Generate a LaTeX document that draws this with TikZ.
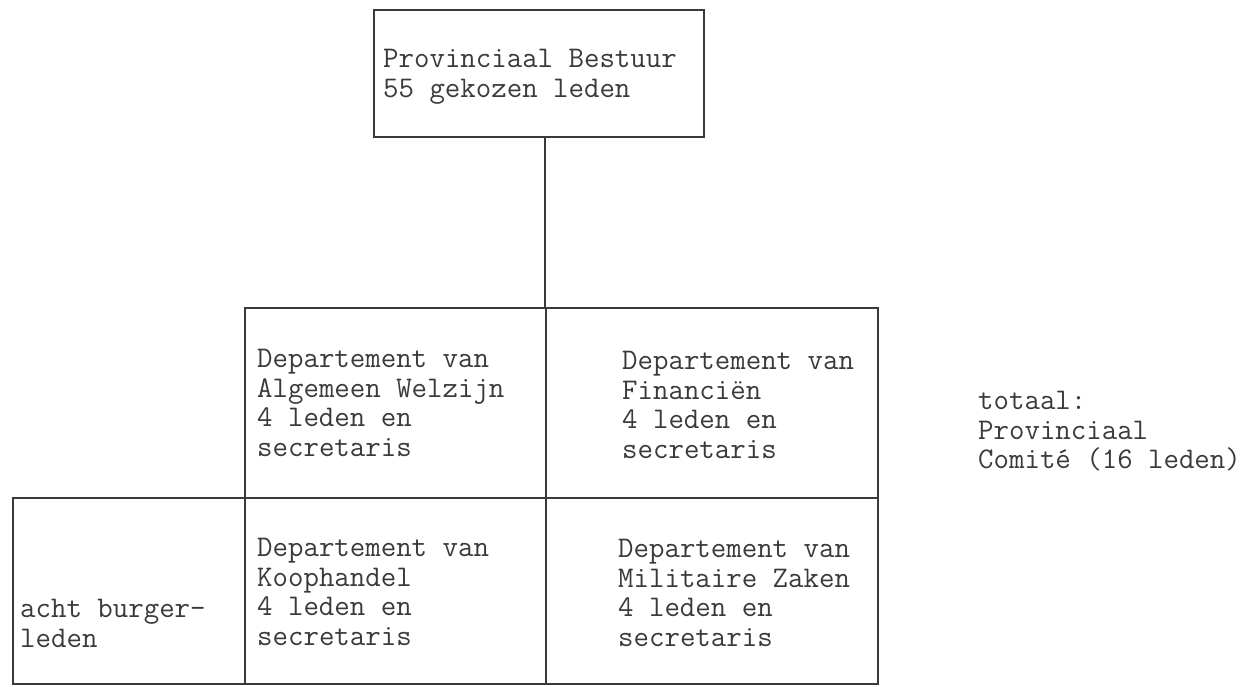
\documentclass[tikz,border=0pt]{standalone}
\usepackage{fontspec}
\definecolor{ink}{HTML}{3A3A3A}
\begin{document}
\begin{tikzpicture}[x=1pt,y=-1pt,
  frame/.style={draw=ink, line width=1.3pt, inner sep=0pt, outer sep=0pt, anchor=north west},
  txt/.style={text=ink, inner sep=0pt, anchor=north west, align=left, font=\ttfamily\fontsize{30}{29.5}\selectfont},
  side/.style={txt},
  link/.style={draw=ink, line width=1.3pt}]
\useasboundingbox (0,0) rectangle (1257,686);
% boxes
\node[frame, minimum width=330, minimum height=127] (top) at (374,10) {};
\node[frame, minimum width=301, minimum height=190] (tl) at (245,308) {};
\node[frame, minimum width=332, minimum height=190] (tr) at (546,308) {};
\node[frame, minimum width=301, minimum height=186] (bl) at (245,498) {};
\node[frame, minimum width=332, minimum height=186] (br) at (546,498) {};
\node[frame, minimum width=232, minimum height=186] (lf) at (13,498) {};
% connector
\coordinate (cx) at (545,0);
\draw[link] (top.south -| cx) -- (tl.north -| cx);
% texts
\node[txt] (ttop) at (383,49) {Provinciaal Bestuur\\55 gekozen leden};
\node[txt] (ttl) at (257,349) {Departement van\\Algemeen Welzijn\\4 leden en\\secretaris};
\node[txt] (ttr) at (622,351) {Departement van\\Financiën\\4 leden en\\secretaris};
\node[txt] (tbl) at (257,538) {Departement van\\Koophandel\\4 leden en\\secretaris};
\node[txt] (tbr) at (618,539) {Departement van\\Militaire Zaken\\4 leden en\\secretaris};
\node[txt] (tlf) at (20,599) {acht burger-\\leden};
\node[side] (tside) at (978,391) {totaal:\\Provinciaal\\Comité (16 leden)};
\end{tikzpicture}
\end{document}
